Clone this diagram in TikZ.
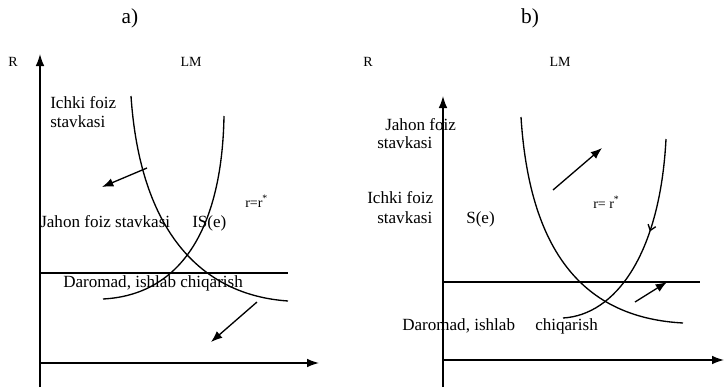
\documentclass[tikz,border=0pt]{standalone}
\usepackage{fontspec}
\setmainfont{Liberation Serif}
\usetikzlibrary{arrows.meta, positioning, decorations.markings}

\begin{document}
\begin{tikzpicture}[x=0.75pt, y=-0.75pt,
    axis/.style={line width=1pt, -{Latex[length=9pt, width=6.5pt]}},
    curve/.style={line width=1pt},
    shiftarrow/.style={line width=1pt, -{Latex[length=8.5pt, width=6.5pt]}},
    lbl/.style={font=\fontsize{12.8}{15}\selectfont, inner sep=0pt, anchor=base west},
    tag/.style={font=\fontsize{10.5}{12}\selectfont, inner sep=0pt},
    title/.style={font=\fontsize{16}{18}\selectfont, inner sep=0pt}
]
    \useasboundingbox (0,0) rectangle (725,389);

    % Panel a
    \node[title] (titleA) at (130,18) {a)};
    \node[tag] (rA) at (13,62) {R};
    \node[tag] (lmA) at (191,62) {LM};

    % Axes (a)
    \coordinate (botA) at (40,387);
    \coordinate (topA) at (40,54);
    \coordinate (hzA) at (40,363);
    \coordinate (endA) at (319,363);
    \draw[axis] (botA) -- (topA);
    \draw[axis] (hzA) -- (endA);

    % World rate line and curves (a)
    \coordinate (wA0) at (40,273);
    \coordinate (wA1) at (288,273);
    \draw[curve] (wA0) -- (wA1);
    \coordinate (isA0) at (131,96);
    \coordinate (isA1) at (288,301);
    \draw[curve] (isA0) .. controls (140,230) and (200,295) .. (isA1);
    \coordinate (lmA0) at (224,116);
    \coordinate (lmA1) at (103,299);
    \draw[curve] (lmA0) .. controls (222,230) and (180,295) .. (lmA1);

    % Shifts (a)
    \coordinate (sA0) at (147,168);
    \coordinate (sA1) at (102,187);
    \draw[shiftarrow] (sA0) -- (sA1);
    \coordinate (sA2) at (257,302);
    \coordinate (sA3) at (211,342);
    \draw[shiftarrow] (sA2) -- (sA3);

    % Labels (a)
    \node[lbl] (ichkiA1) at (50,108) {Ichki foiz};
    \node[lbl] (ichkiA2) at (50,127) {stavkasi};
    \node[lbl] (jahonA) at (40,227) {Jahon foiz stavkasi};
    \node[lbl] (isA) at (192,227) {IS(e)};
    \node[tag, anchor=base west] (rrA) at (245,207) {r=r\textsuperscript{*}};
    \node[lbl] (darA) at (63,287) {Daromad, ishlab chiqarish};

    % Panel b
    \node[title] (titleB) at (530,18) {b)};
    \node[tag] (rB) at (368,62) {R};
    \node[tag] (lmB) at (560,62) {LM};

    % Axes (b)
    \coordinate (botB) at (443,387);
    \coordinate (topB) at (443,96);
    \coordinate (hzB) at (443,360);
    \coordinate (endB) at (724,360);
    \draw[axis] (botB) -- (topB);
    \draw[axis] (hzB) -- (endB);

    % World rate line and curves (b)
    \coordinate (wB0) at (443,282);
    \coordinate (wB1) at (700,282);
    \draw[curve] (wB0) -- (wB1);
    \coordinate (isB0) at (521,117);
    \coordinate (isB1) at (683,323);
    \draw[curve] (isB0) .. controls (530,260) and (590,318) .. (isB1);
    \coordinate (lmB0) at (666,139);
    \coordinate (lmB1) at (563,318);
    \draw[curve, postaction={decorate}, decoration={markings,
        mark=at position 0.42 with {\arrow{Straight Barb[length=4pt, width=6pt, line width=1pt]}}}]
        (lmB0) .. controls (660,255) and (615,315) .. (lmB1);

    % Shifts (b)
    \coordinate (sB0) at (553,190);
    \coordinate (sB1) at (602,148);
    \draw[shiftarrow] (sB0) -- (sB1);
    \coordinate (sB2) at (635,302);
    \coordinate (sB3) at (667,282);
    \draw[shiftarrow] (sB2) -- (sB3);

    % Labels (b)
    \node[lbl] (jahonB1) at (385,130) {Jahon foiz};
    \node[lbl] (jahonB2) at (377,148) {stavkasi};
    \node[lbl] (ichkiB1) at (367,203) {Ichki foiz};
    \node[lbl] (ichkiB2) at (377,223) {stavkasi};
    \node[lbl] (seB) at (466,223) {S(e)};
    \node[tag, anchor=base west] (rrB) at (593,208) {r= r\textsuperscript{*}};
    \node[lbl] (darB) at (402,330) {Daromad, ishlab};
    \node[lbl] (chiqB) at (535,330) {chiqarish};
\end{tikzpicture}
\end{document}
